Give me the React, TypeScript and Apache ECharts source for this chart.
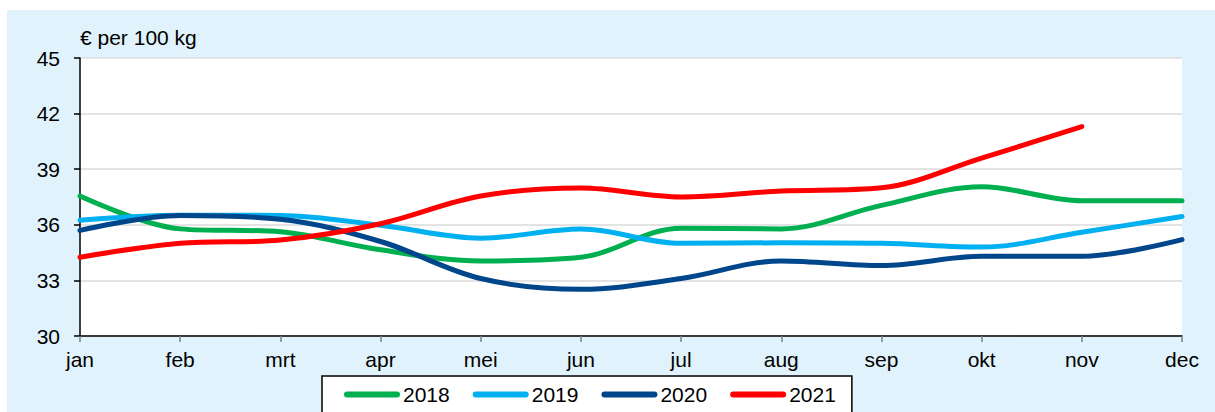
import React, { useEffect, useRef } from "react";
import * as echarts from "echarts";

const months = ["jan", "feb", "mrt", "apr", "mei", "jun", "jul", "aug", "sep", "okt", "nov", "dec"];
const s2018 = [37.55, 35.78, 35.62, 34.65, 34.05, 34.25, 35.82, 35.78, 37.05, 38.05, 37.3, 37.3];
const s2019 = [36.25, 36.52, 36.5, 35.98, 35.28, 35.77, 35.0, 35.03, 35.0, 34.8, 35.6, 36.45];
const s2020 = [35.7, 36.5, 36.3, 35.1, 33.1, 32.52, 33.1, 34.05, 33.8, 34.3, 34.3, 35.2];
const s2021 = [34.25, 35.0, 35.18, 36.06, 37.55, 37.98, 37.5, 37.82, 38.0, 39.6, 41.3, null];
const yTicks = { min: 30, max: 45, interval: 3 };
const unitLabel = "€ per 100 kg";

const seriesDefs = [
  { name: "2018", data: s2018, color: "#00b050" },
  { name: "2019", data: s2019, color: "#00b0f0" },
  { name: "2020", data: s2020, color: "#00468b" },
  { name: "2021", data: s2021, color: "#ff0000" },
];

const FONT = "'Liberation Sans', Arial, sans-serif";

export default function App() {
  const ref = useRef<HTMLDivElement>(null);
  useEffect(() => {
    document.body.style.margin = "0";
    if (!ref.current) return;
    const chart = echarts.init(ref.current, null, { renderer: "svg" });
    chart.setOption({
      animation: false,
      backgroundColor: "#ffffff",
      textStyle: { fontFamily: FONT },
      graphic: [
        {
          type: "rect",
          z: -10,
          silent: true,
          shape: { x: 7, y: 10, width: 1208, height: 402 },
          style: { fill: "#e0f2fc" },
        },
        {
          type: "text",
          left: 80,
          top: 27,
          style: { text: unitLabel, fontSize: 21, fill: "#000", fontFamily: FONT },
        },
      ],
      grid: {
        left: 80,
        right: 33,
        top: 58,
        bottom: 76,
        show: true,
        backgroundColor: "#ffffff",
        borderWidth: 0,
      },
      legend: {
        left: 322,
        top: 376,
        data: seriesDefs.map((s) => s.name),
        itemWidth: 56,
        itemHeight: 6,
        itemGap: 23,
        icon: "path://M3,0 L53,0 A3,3 0 0 1 53,6 L3,6 A3,3 0 0 1 3,0 Z",
        backgroundColor: "#ffffff",
        borderColor: "#000000",
        borderWidth: 1.5,
        borderRadius: 0,
        padding: [8, 16, 30, 22],
        textStyle: { fontSize: 21, color: "#000", fontFamily: FONT, padding: [0, 0, 0, -2] },
      },
      xAxis: {
        type: "category",
        data: months,
        boundaryGap: false,
        axisLine: { lineStyle: { color: "#000", width: 1.5 } },
        axisTick: { show: true, length: 6, alignWithLabel: true, lineStyle: { color: "#7f7f7f", width: 1.5 } },
        axisLabel: { fontSize: 21, color: "#000", margin: 13, fontFamily: FONT },
        splitLine: { show: false },
      },
      yAxis: {
        type: "value",
        min: yTicks.min,
        max: yTicks.max,
        interval: yTicks.interval,
        axisLine: { show: true, lineStyle: { color: "#000", width: 1.5 } },
        axisTick: { show: true, length: 6, lineStyle: { color: "#000", width: 1.5 } },
        axisLabel: { fontSize: 21, color: "#000", margin: 20, fontFamily: FONT },
        splitLine: { show: true, lineStyle: { color: "#e3e3e3", width: 2 } },
      },
      series: seriesDefs.map((s) => ({
        name: s.name,
        type: "line",
        data: s.data,
        smooth: 0.35,
        symbol: "none",
        showSymbol: false,
        connectNulls: false,
        color: s.color,
        lineStyle: { color: s.color, width: 5, cap: "round", join: "round" },
      })),
    });
    return () => chart.dispose();
  }, []);
  return <div ref={ref} style={{ width: 1215, height: 412 }} />;
}
